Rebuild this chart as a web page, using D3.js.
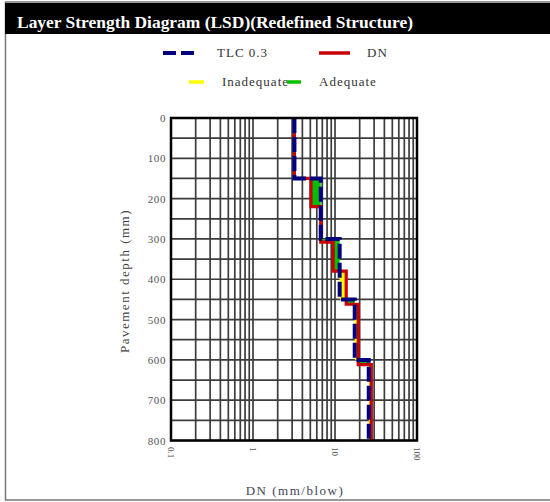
<!DOCTYPE html>
<html>
<head>
<meta charset="utf-8">
<script src="https://cdn.jsdelivr.net/npm/d3@7"></script>
<style>
  html, body { margin: 0; padding: 0; background: #fff; }
  svg { display: block; }
  text { font-family: "Liberation Serif", "Times New Roman", serif; }
</style>
</head>
<body>
<svg id="chart" width="550" height="502"></svg>
<script>
// Layer boundaries (mm) and DN values (mm/blow) for each layer
const tlcDepths = [0, 150, 300, 450, 600, 800];
const tlcValues = [3.2, 6.7, 11.4, 17.4, 25.8];

const dnDepths = [0, 150, 220, 308, 380, 462, 612, 800];
const dnValues = [3.2, 5.1, 6.7, 9.5, 13.7, 19.2, 27.7];

const xTicks = [0.1, 1, 10, 100];
const xTickLabels = ["0.1", "1", "10", "100"];
const yTicks = [0, 100, 200, 300, 400, 500, 600, 700, 800];

const title = "Layer Strength Diagram (LSD)(Redefined Structure)";
const xTitle = "DN (mm/blow)";
const yTitle = "Pavement depth (mm)";

const colors = { tlc: "#00007f", dn: "#c80000", inadequate: "#ffff00", adequate: "#00c000" };

const svg = d3.select("#chart");

// frame and title bar
svg.append("rect").attr("x", 5.5).attr("y", 2).attr("width", 560).attr("height", 498)
  .attr("fill", "none").attr("stroke", "#777").attr("stroke-width", 1.5);
svg.append("rect").attr("x", 5).attr("y", 3).attr("width", 545).attr("height", 31).attr("fill", "#000");
svg.append("text").attr("x", 17).attr("y", 28).attr("fill", "#fff")
  .attr("font-weight", "bold").attr("font-size", 17)
  .attr("textLength", 396).attr("lengthAdjust", "spacingAndGlyphs")
  .text(title);

const plot = { left: 171, right: 417, top: 118, bottom: 440.5 };
const x = d3.scaleLog().domain([0.1, 100]).range([plot.left, plot.right]);
const y = d3.scaleLinear().domain([0, 800]).range([plot.top, plot.bottom]);

// grid: every log minor step and every 50 mm
const minor = [];
for (let d = 0.1; d < 100; d *= 10) for (let k = 1; k <= 9; k++) minor.push(d * k);
minor.push(100);
const g = svg.append("g");
g.selectAll(".vg").data(minor).join("line")
  .attr("x1", d => x(d)).attr("x2", d => x(d))
  .attr("y1", plot.top).attr("y2", plot.bottom)
  .attr("stroke", "#3c3c3c").attr("stroke-width", 1.7);
g.selectAll(".hg").data(d3.range(0, 801, 50)).join("line")
  .attr("x1", plot.left).attr("x2", plot.right)
  .attr("y1", d => y(d)).attr("y2", d => y(d))
  .attr("stroke", "#3c3c3c").attr("stroke-width", 1.7);

// merge both layer structures and shade the gap between DN and TLC
const breaks = Array.from(new Set([...tlcDepths, ...dnDepths])).sort((a, b) => a - b);
const valueAt = (depths, values, d) => {
  const i = d3.bisectRight(depths, d) - 1;
  return values[Math.min(i, values.length - 1)];
};
const bands = [];
for (let i = 0; i < breaks.length - 1; i++) {
  const mid = (breaks[i] + breaks[i + 1]) / 2;
  const t = valueAt(tlcDepths, tlcValues, mid);
  const n = valueAt(dnDepths, dnValues, mid);
  if (t !== n) bands.push({ d0: breaks[i], d1: breaks[i + 1], lo: Math.min(t, n), hi: Math.max(t, n), ok: n < t });
}
svg.append("g").selectAll("rect").data(bands).join("rect")
  .attr("x", d => x(d.lo)).attr("width", d => x(d.hi) - x(d.lo))
  .attr("y", d => y(d.d0)).attr("height", d => y(d.d1) - y(d.d0))
  .attr("fill", d => d.ok ? colors.adequate : colors.inadequate);

// step profiles
const stepPoints = (depths, values) => {
  const pts = [];
  values.forEach((v, i) => { pts.push([v, depths[i]]); pts.push([v, depths[i + 1]]); });
  return pts;
};
const line = d3.line().x(p => x(p[0])).y(p => y(p[1]));
svg.append("path").attr("d", line(stepPoints(dnDepths, dnValues)))
  .attr("fill", "none").attr("stroke", colors.dn).attr("stroke-width", 3.2);
svg.append("path").attr("d", line(stepPoints(tlcDepths, tlcValues)))
  .attr("fill", "none").attr("stroke", colors.tlc).attr("stroke-width", 4)
  .attr("stroke-dasharray", "15,4");

// plot border
svg.append("rect").attr("x", plot.left).attr("y", plot.top)
  .attr("width", plot.right - plot.left).attr("height", plot.bottom - plot.top)
  .attr("fill", "none").attr("stroke", "#000").attr("stroke-width", 2.5);

// y axis labels
svg.append("g").selectAll("text").data(yTicks).join("text")
  .attr("x", 166).attr("y", d => y(d) + 4)
  .attr("text-anchor", "end").attr("font-size", 11).attr("fill", "#555")
  .attr("letter-spacing", 0.6)
  .text(d => d);

// x axis labels, rotated
svg.append("g").selectAll("text").data(xTicks).join("text")
  .attr("transform", (d, i) => `translate(${x(d) - 3},${447}) rotate(90)`)
  .attr("font-size", 9).attr("fill", "#555")
  .text((d, i) => xTickLabels[i]);

// axis titles
svg.append("text").attr("x", 295).attr("y", 495).attr("text-anchor", "middle")
  .attr("font-size", 13).attr("fill", "#445").attr("letter-spacing", 1.5)
  .text(xTitle);
svg.append("text").attr("transform", "translate(129,281) rotate(-90)")
  .attr("text-anchor", "middle").attr("font-size", 13).attr("fill", "#444")
  .attr("letter-spacing", 1.5)
  .text(yTitle);

// legend
const legend = svg.append("g");
const items = [
  { label: "TLC 0.3", color: colors.tlc, dash: "13,5", x0: 163, x1: 195, tx: 217, y: 53, w: 4 },
  { label: "DN", color: colors.dn, dash: null, x0: 319, x1: 350, tx: 367, y: 53, w: 3.5 },
  { label: "Inadequate", color: colors.inadequate, dash: null, x0: 189, x1: 204, tx: 222, y: 82, w: 3.5 },
  { label: "Adequate", color: colors.adequate, dash: null, x0: 287, x1: 301, tx: 319, y: 82, w: 3.5 }
];
items.forEach(it => {
  legend.append("text").attr("x", it.tx).attr("y", it.y + 4).attr("font-size", 13)
    .attr("fill", "#333").attr("letter-spacing", 1).text(it.label);
});
items.forEach(it => {
  legend.append("line").attr("x1", it.x0).attr("x2", it.x1).attr("y1", it.y).attr("y2", it.y)
    .attr("stroke", it.color).attr("stroke-width", it.w)
    .attr("stroke-dasharray", it.dash);
});
</script>
</body>
</html>
